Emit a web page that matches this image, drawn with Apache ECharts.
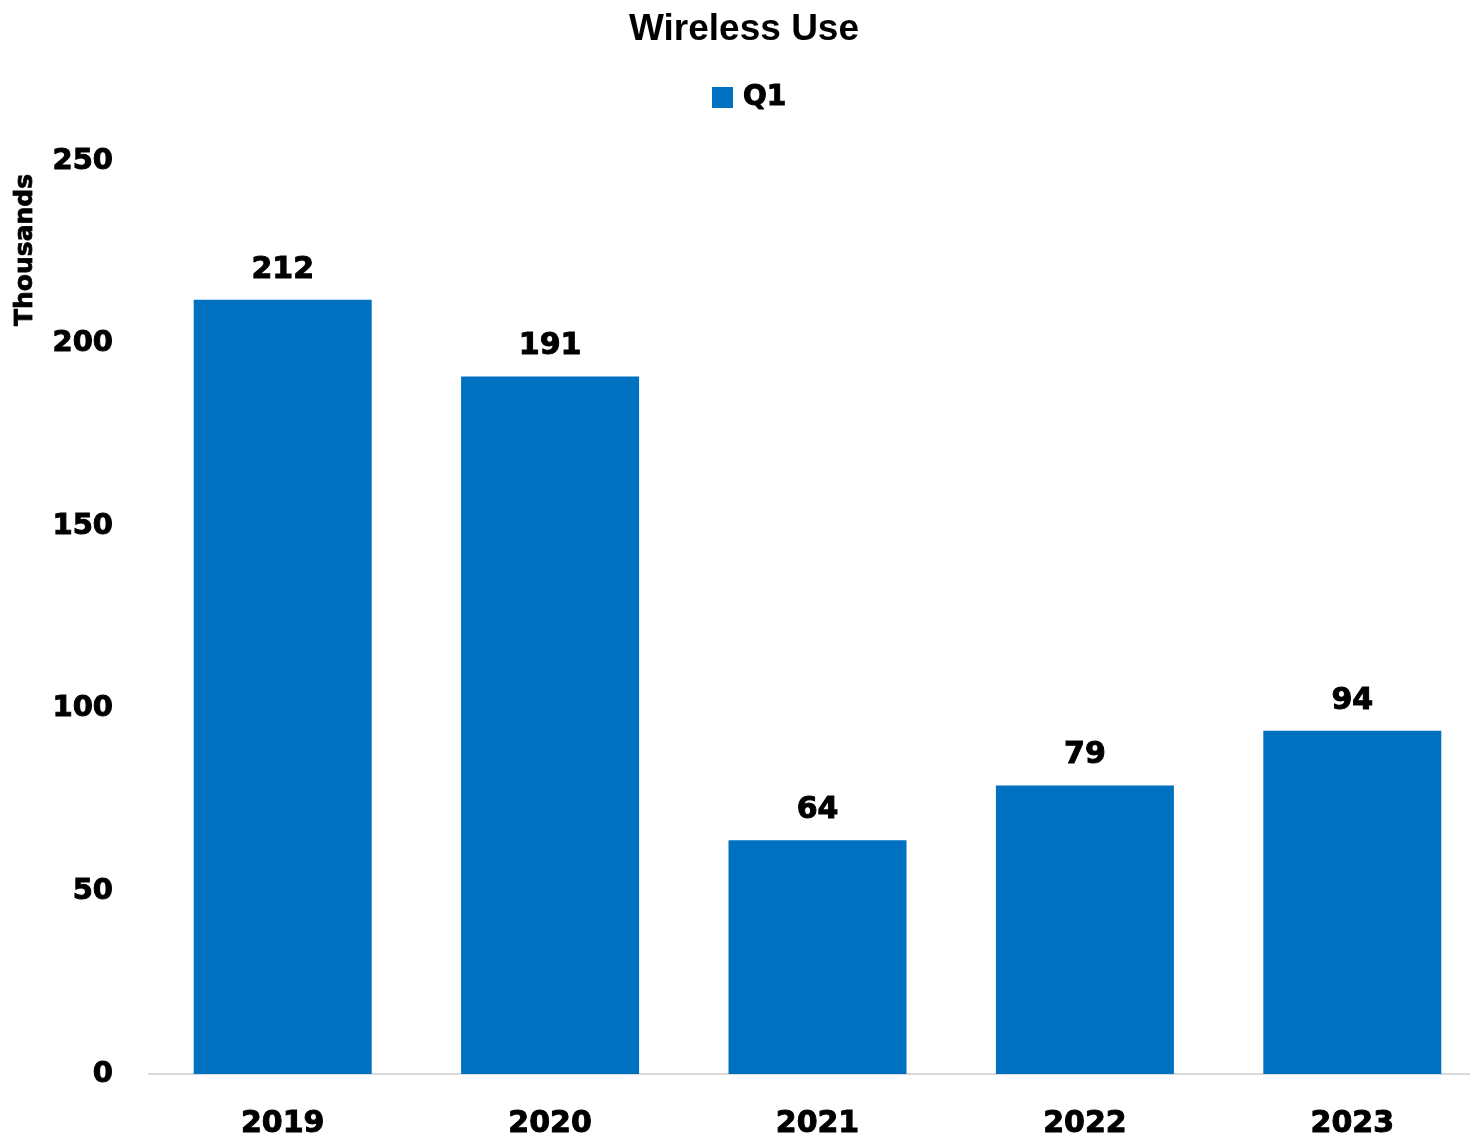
<!DOCTYPE html>
<html>
<head>
<meta charset="utf-8">
<title>Wireless Use</title>
<script src="https://cdn.jsdelivr.net/npm/echarts@6/dist/echarts.min.js"></script>
<style>
  html, body { margin: 0; padding: 0; background: #ffffff; }
  #chart { width: 1470px; height: 1137px; }
</style>
</head>
<body>
<div id="chart"></div>
<script>
// Wireless use, first quarter of each year (thousands)
const years = ['2019', '2020', '2021', '2022', '2023'];
const q1Values = [212, 191, 64, 79, 94];
const yTicks = { min: 0, max: 250, interval: 50 };

const heavyFont = '"DejaVu Sans", sans-serif';
// heavy black lettering: bold face plus a thin outline in the same colour
const heavyText = {
  fontFamily: heavyFont,
  fontWeight: 'bold',
  color: '#000000',
  textBorderColor: '#000000',
  textBorderWidth: 1
};

const chart = echarts.init(document.getElementById('chart'));

chart.setOption({
  backgroundColor: '#ffffff',
  animation: false,
  title: {
    text: 'Wireless Use',
    left: 739,
    textAlign: 'center',
    top: 6,
    textStyle: {
      fontFamily: '"Liberation Sans", Arial, sans-serif',
      fontWeight: 'bold',
      fontSize: 37,
      color: '#000000'
    }
  },
  legend: {
    data: ['Q1'],
    left: 712,
    top: 83,
    padding: 0,
    icon: 'rect',
    itemWidth: 21,
    itemHeight: 21,
    textStyle: Object.assign({}, heavyText, { fontSize: 28, padding: [0, 0, 0, 5] })
  },
  graphic: [{
    type: 'text',
    x: 25,
    y: 250,
    rotation: Math.PI / 2,
    style: {
      text: 'Thousands',
      fontFamily: heavyFont,
      fontWeight: 'bold',
      fontSize: 25,
      fill: '#000000',
      stroke: '#000000',
      lineWidth: 0.8,
      textAlign: 'center',
      textVerticalAlign: 'middle'
    }
  }],
  grid: {
    left: 149,
    top: 161,
    width: 1337,
    height: 913,
    containLabel: false,
    outerBoundsMode: 'none'
  },
  xAxis: {
    type: 'category',
    data: years,
    axisLine: { show: true, lineStyle: { color: '#d9d9d9', width: 2 } },
    axisTick: { show: false },
    axisLabel: Object.assign({}, heavyText, { margin: 35, fontSize: 30 })
  },
  yAxis: {
    type: 'value',
    min: yTicks.min,
    max: yTicks.max,
    interval: yTicks.interval,
    axisLine: { show: false },
    axisTick: { show: false },
    splitLine: { show: false },
    axisLabel: Object.assign({}, heavyText, { margin: 36, fontSize: 29 })
  },
  series: [{
    name: 'Q1',
    type: 'bar',
    data: q1Values,
    barWidth: 178,
    itemStyle: { color: '#0070C0' },
    label: Object.assign({}, heavyText, {
      show: true,
      position: 'top',
      distance: 15,
      fontSize: 30
    })
  }]
});
</script>
</body>
</html>
